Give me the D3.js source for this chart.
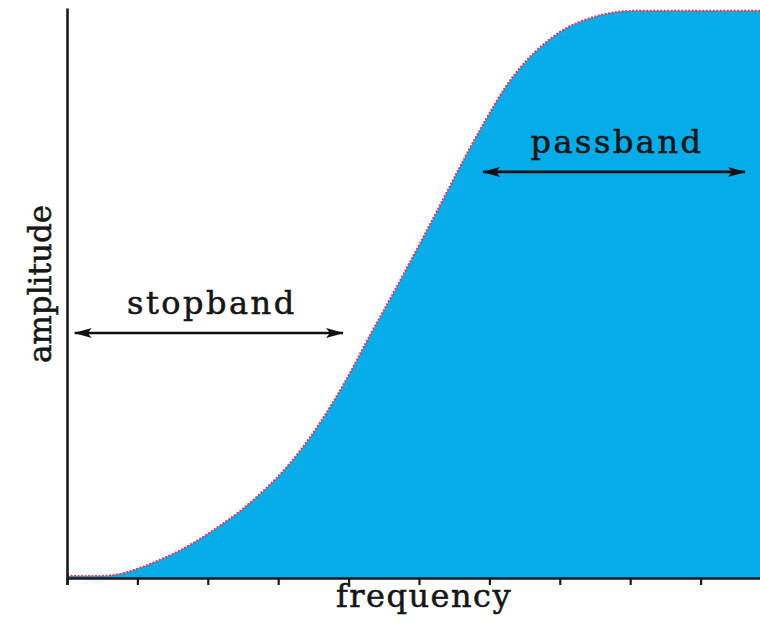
<!DOCTYPE html>
<html>
<head>
<meta charset="utf-8">
<script src="https://cdn.jsdelivr.net/npm/d3@7"></script>
<style>
  html, body { margin: 0; padding: 0; background: #fff; }
  svg { display: block; }
  text { font-family: "DejaVu Serif", "Liberation Serif", serif; fill: #161616; stroke: #161616; stroke-width: 0.55; }
</style>
</head>
<body>
<svg id="chart" width="760" height="628"></svg>
<script>
// ---- data ----
const frequency = [0, 0.47, 0.75, 1.04, 1.32, 1.61, 1.89, 2.17, 2.46, 2.74, 3.03, 3.31, 3.59, 3.95, 4.30, 4.66, 5.01, 5.34, 5.65, 5.94, 6.22, 6.51, 6.79, 7.07, 7.43, 7.71, 8.07, 9.9];
const amplitude = [0.0035, 0.0035, 0.007, 0.018, 0.032, 0.049, 0.069, 0.092, 0.118, 0.148, 0.183, 0.224, 0.273, 0.346, 0.427, 0.508, 0.589, 0.667, 0.741, 0.806, 0.864, 0.910, 0.943, 0.968, 0.987, 0.996, 1.0, 1.0];
const tickValues = [0, 1, 2, 3, 4, 5, 6, 7, 8, 9];
const bandNames = ["stopband", "passband"];
const bandFrom = [0.11, 5.91];
const bandTo = [3.92, 9.63];
const bandLevel = [0.432, 0.716];
const xTitle = "frequency";
const yTitle = "amplitude";

const svg = d3.select("#chart");
const x = d3.scaleLinear().domain([0, 10]).range([67, 771]);
const y = d3.scaleLinear().domain([0, 1.005]).range([578, 8]);

const pts = frequency.map((f, i) => ({ f, a: amplitude[i] }));
const curve = d3.curveMonotoneX;

// filled response
svg.append("path")
  .datum(pts)
  .attr("fill", "#06ace8")
  .attr("d", d3.area().curve(curve)
    .x(d => x(d.f)).y0(y(0)).y1(d => y(d.a)));

// red dotted outline
svg.append("path")
  .datum(pts)
  .attr("fill", "none")
  .attr("stroke", "#d8405f")
  .attr("stroke-width", 2.2)
  .attr("stroke-dasharray", "2,1.5")
  .attr("d", d3.line().curve(curve)
    .x(d => x(d.f)).y(d => y(d.a)));

// arrow markers
const defs = svg.append("defs");
defs.append("marker").attr("id", "arrowEnd")
  .attr("viewBox", "0 0 18 12").attr("refX", 17).attr("refY", 6)
  .attr("markerWidth", 18).attr("markerHeight", 12)
  .attr("markerUnits", "userSpaceOnUse").attr("orient", "auto")
  .append("path").attr("d", "M0,1 L18,6 L0,11 L4,6 Z").attr("fill", "#111");
defs.append("marker").attr("id", "arrowStart")
  .attr("viewBox", "0 0 18 12").attr("refX", 1).attr("refY", 6)
  .attr("markerWidth", 18).attr("markerHeight", 12)
  .attr("markerUnits", "userSpaceOnUse").attr("orient", "auto")
  .append("path").attr("d", "M18,1 L0,6 L18,11 L14,6 Z").attr("fill", "#111");

bandNames.forEach((name, i) => {
  svg.append("line")
    .attr("x1", x(bandFrom[i])).attr("x2", x(bandTo[i]))
    .attr("y1", y(bandLevel[i])).attr("y2", y(bandLevel[i]))
    .attr("stroke", "#111").attr("stroke-width", 2.6)
    .attr("marker-start", "url(#arrowStart)")
    .attr("marker-end", "url(#arrowEnd)");
  svg.append("text")
    .attr("x", (x(bandFrom[i]) + x(bandTo[i])) / 2 + 3)
    .attr("y", y(bandLevel[i]) - 19)
    .attr("text-anchor", "middle")
    .attr("font-size", 32)
    .attr("letter-spacing", 2.5)
    .text(name);
});

// axes
const xAxis = svg.append("g")
  .attr("transform", `translate(0,${y(0)})`)
  .call(d3.axisBottom(x).tickValues(tickValues).tickSize(7).tickFormat(""));
xAxis.select(".domain").attr("stroke", "#1a1a1a").attr("stroke-width", 2.6);
xAxis.selectAll(".tick line").attr("stroke", "#1a1a1a").attr("stroke-width", 2.2);

const yAxis = svg.append("g")
  .attr("transform", `translate(${x(0)},0)`)
  .call(d3.axisLeft(y).tickValues([]).tickSizeOuter(0));
yAxis.select(".domain").attr("stroke", "#1a1a1a").attr("stroke-width", 2.6);

// titles
svg.append("text")
  .attr("x", 424).attr("y", 607)
  .attr("text-anchor", "middle")
  .attr("font-size", 32)
  .attr("letter-spacing", 1.5)
  .text(xTitle);

svg.append("text")
  .attr("transform", "translate(51,284) rotate(-90)")
  .attr("text-anchor", "middle")
  .attr("font-size", 31)
  .text(yTitle);
</script>
</body>
</html>
